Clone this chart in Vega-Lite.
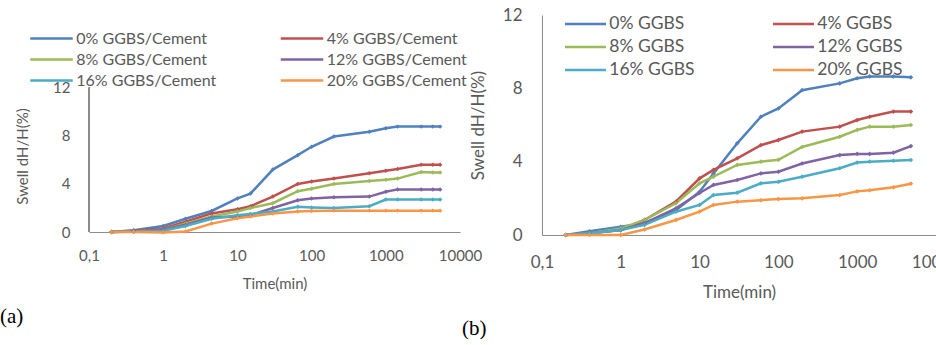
{
  "$schema": "https://vega.github.io/schema/vega-lite/v6.json",
  "background": "white",
  "padding": {"left": 0, "top": 6, "right": 0, "bottom": 0},
  "bounds": "flush",
  "spacing": 82,
  "config": {"font": "Lato", "view": {"stroke": null}},
  "resolve": {"scale": {"color": "independent"}, "legend": {"color": "independent"}},
  "hconcat": [
    {
      "width": 371,
      "height": 217,
      "title": {"text": "(a)", "orient": "bottom", "anchor": "start", "frame": "group", "dx": -89, "offset": 15, "font": "Liberation Serif", "fontSize": 21, "fontWeight": "normal", "color": "black"},
      "data": {"values": [
        {"t":0.2,"s":"0% GGBS/Cement","v":0},{"t":0.4,"s":"0% GGBS/Cement","v":0.15},{"t":1,"s":"0% GGBS/Cement","v":0.5},{"t":2,"s":"0% GGBS/Cement","v":1.1},{"t":4.5,"s":"0% GGBS/Cement","v":1.75},{"t":10,"s":"0% GGBS/Cement","v":2.8},{"t":15,"s":"0% GGBS/Cement","v":3.2},{"t":30,"s":"0% GGBS/Cement","v":5.2},{"t":65,"s":"0% GGBS/Cement","v":6.4},{"t":100,"s":"0% GGBS/Cement","v":7.1},{"t":200,"s":"0% GGBS/Cement","v":7.95},{"t":600,"s":"0% GGBS/Cement","v":8.35},{"t":1000,"s":"0% GGBS/Cement","v":8.65},{"t":1440,"s":"0% GGBS/Cement","v":8.78},{"t":3000,"s":"0% GGBS/Cement","v":8.78},{"t":4300,"s":"0% GGBS/Cement","v":8.78},{"t":5400,"s":"0% GGBS/Cement","v":8.78},
        {"t":0.2,"s":"4% GGBS/Cement","v":0},{"t":0.4,"s":"4% GGBS/Cement","v":0.1},{"t":1,"s":"4% GGBS/Cement","v":0.3},{"t":2,"s":"4% GGBS/Cement","v":0.85},{"t":4.5,"s":"4% GGBS/Cement","v":1.55},{"t":10,"s":"4% GGBS/Cement","v":1.9},{"t":15,"s":"4% GGBS/Cement","v":2.15},{"t":30,"s":"4% GGBS/Cement","v":2.95},{"t":65,"s":"4% GGBS/Cement","v":4.0},{"t":100,"s":"4% GGBS/Cement","v":4.2},{"t":200,"s":"4% GGBS/Cement","v":4.45},{"t":600,"s":"4% GGBS/Cement","v":4.9},{"t":1000,"s":"4% GGBS/Cement","v":5.1},{"t":1440,"s":"4% GGBS/Cement","v":5.25},{"t":3000,"s":"4% GGBS/Cement","v":5.6},{"t":4300,"s":"4% GGBS/Cement","v":5.6},{"t":5400,"s":"4% GGBS/Cement","v":5.6},
        {"t":0.2,"s":"8% GGBS/Cement","v":0},{"t":0.4,"s":"8% GGBS/Cement","v":0.05},{"t":1,"s":"8% GGBS/Cement","v":0.2},{"t":2,"s":"8% GGBS/Cement","v":0.7},{"t":4.5,"s":"8% GGBS/Cement","v":1.3},{"t":10,"s":"8% GGBS/Cement","v":1.7},{"t":15,"s":"8% GGBS/Cement","v":2.0},{"t":30,"s":"8% GGBS/Cement","v":2.4},{"t":65,"s":"8% GGBS/Cement","v":3.4},{"t":100,"s":"8% GGBS/Cement","v":3.6},{"t":200,"s":"8% GGBS/Cement","v":4.0},{"t":600,"s":"8% GGBS/Cement","v":4.25},{"t":1000,"s":"8% GGBS/Cement","v":4.35},{"t":1440,"s":"8% GGBS/Cement","v":4.45},{"t":3000,"s":"8% GGBS/Cement","v":5.0},{"t":4300,"s":"8% GGBS/Cement","v":4.95},{"t":5400,"s":"8% GGBS/Cement","v":4.95},
        {"t":0.2,"s":"12% GGBS/Cement","v":0},{"t":0.4,"s":"12% GGBS/Cement","v":0.05},{"t":1,"s":"12% GGBS/Cement","v":0.2},{"t":2,"s":"12% GGBS/Cement","v":0.6},{"t":4.5,"s":"12% GGBS/Cement","v":1.2},{"t":10,"s":"12% GGBS/Cement","v":1.3},{"t":15,"s":"12% GGBS/Cement","v":1.4},{"t":30,"s":"12% GGBS/Cement","v":2.0},{"t":65,"s":"12% GGBS/Cement","v":2.65},{"t":100,"s":"12% GGBS/Cement","v":2.8},{"t":200,"s":"12% GGBS/Cement","v":2.9},{"t":600,"s":"12% GGBS/Cement","v":2.95},{"t":1000,"s":"12% GGBS/Cement","v":3.35},{"t":1440,"s":"12% GGBS/Cement","v":3.55},{"t":3000,"s":"12% GGBS/Cement","v":3.55},{"t":4300,"s":"12% GGBS/Cement","v":3.55},{"t":5400,"s":"12% GGBS/Cement","v":3.55},
        {"t":0.2,"s":"16% GGBS/Cement","v":0},{"t":0.4,"s":"16% GGBS/Cement","v":0.05},{"t":1,"s":"16% GGBS/Cement","v":0.1},{"t":2,"s":"16% GGBS/Cement","v":0.5},{"t":4.5,"s":"16% GGBS/Cement","v":1.1},{"t":10,"s":"16% GGBS/Cement","v":1.4},{"t":15,"s":"16% GGBS/Cement","v":1.5},{"t":30,"s":"16% GGBS/Cement","v":1.7},{"t":65,"s":"16% GGBS/Cement","v":2.1},{"t":100,"s":"16% GGBS/Cement","v":2.05},{"t":200,"s":"16% GGBS/Cement","v":2.0},{"t":600,"s":"16% GGBS/Cement","v":2.15},{"t":1000,"s":"16% GGBS/Cement","v":2.7},{"t":1440,"s":"16% GGBS/Cement","v":2.7},{"t":3000,"s":"16% GGBS/Cement","v":2.7},{"t":4300,"s":"16% GGBS/Cement","v":2.7},{"t":5400,"s":"16% GGBS/Cement","v":2.7},
        {"t":0.2,"s":"20% GGBS/Cement","v":0},{"t":0.4,"s":"20% GGBS/Cement","v":0},{"t":1,"s":"20% GGBS/Cement","v":-0.05},{"t":2,"s":"20% GGBS/Cement","v":0.05},{"t":4.5,"s":"20% GGBS/Cement","v":0.7},{"t":10,"s":"20% GGBS/Cement","v":1.15},{"t":15,"s":"20% GGBS/Cement","v":1.3},{"t":30,"s":"20% GGBS/Cement","v":1.55},{"t":65,"s":"20% GGBS/Cement","v":1.7},{"t":100,"s":"20% GGBS/Cement","v":1.75},{"t":200,"s":"20% GGBS/Cement","v":1.78},{"t":600,"s":"20% GGBS/Cement","v":1.78},{"t":1000,"s":"20% GGBS/Cement","v":1.78},{"t":1440,"s":"20% GGBS/Cement","v":1.78},{"t":3000,"s":"20% GGBS/Cement","v":1.78},{"t":4300,"s":"20% GGBS/Cement","v":1.78},{"t":5400,"s":"20% GGBS/Cement","v":1.78}
      ]},
      "encoding": {
        "x": {"field": "t", "type": "quantitative", "scale": {"type": "log", "domain": [0.1, 10000], "nice": false},
          "axis": {"values": [0.1, 1, 10, 100, 1000, 10000], "labelExpr": "datum.value < 0.5 ? '0,1' : format(datum.value, 'd')", "title": "Time(min)", "grid": false, "ticks": false, "tickSize": 0, "domainColor": "#8c8c8c", "labelPadding": 16, "labelFontSize": 15, "labelColor": "#595959", "labelFlush": false, "labelOverlap": false, "titleFontSize": 15, "titleColor": "#595959", "titleFontWeight": "normal", "titlePadding": 13}},
        "y": {"field": "v", "type": "quantitative", "scale": {"domain": [0, 18.08], "nice": false},
          "axis": {"values": [0, 4, 8, 12], "title": "Swell dH/H(%)", "grid": false, "ticks": false, "tickSize": 0, "domain": false, "labelPadding": 19, "labelFontSize": 15, "labelColor": "#595959", "titleFontSize": 15, "titleColor": "#595959", "titleFontWeight": "normal", "titlePadding": 22, "titleY": 141}},
        "color": {"field": "s", "type": "nominal",
          "scale": {"domain": ["0% GGBS/Cement","4% GGBS/Cement","8% GGBS/Cement","12% GGBS/Cement","16% GGBS/Cement","20% GGBS/Cement"], "range": ["#4F81BD","#C0504D","#9BBB59","#8064A2","#4BACC6","#F79646"]},
          "legend": {"orient": "none", "direction": "horizontal", "legendX": -47.5, "legendY": 13.5, "columns": 2, "columnPadding": 58.5, "rowPadding": 3, "title": null, "padding": 0, "symbolType": "M-2.5,0H2.5", "symbolSize": 289, "symbolStrokeWidth": 2.5, "labelOffset": 14.75, "labelFontSize": 16, "labelColor": "#595959", "labelLimit": 300}}
      },
      "layer": [
        {"mark": {"type": "line", "strokeWidth": 2.5}},
        {"mark": {"type": "point", "filled": true, "size": 20, "opacity": 1, "shape": "diamond"}},
        {"mark": {"type": "rule", "color": "#8c8c8c", "strokeWidth": 1},
         "encoding": {"x": {"datum": 0.1, "type": "quantitative"}, "y": {"datum": 0, "type": "quantitative"}, "y2": {"datum": 12}, "color": {"value": "#8c8c8c"}}}
      ]
    },
    {
      "width": 394,
      "height": 220,
      "title": {"text": "(b)", "orient": "bottom", "anchor": "start", "frame": "group", "dx": -80, "offset": 18, "font": "Liberation Serif", "fontSize": 21, "fontWeight": "normal", "color": "black"},
      "data": {"values": [
        {"t":0.2,"s":"0% GGBS","v":0},{"t":0.4,"s":"0% GGBS","v":0.2},{"t":1,"s":"0% GGBS","v":0.45},{"t":2,"s":"0% GGBS","v":0.64},{"t":5,"s":"0% GGBS","v":1.36},{"t":10,"s":"0% GGBS","v":2.36},{"t":15,"s":"0% GGBS","v":3.36},{"t":30,"s":"0% GGBS","v":5.0},{"t":60,"s":"0% GGBS","v":6.45},{"t":100,"s":"0% GGBS","v":6.9},{"t":200,"s":"0% GGBS","v":7.9},{"t":600,"s":"0% GGBS","v":8.27},{"t":1000,"s":"0% GGBS","v":8.55},{"t":1440,"s":"0% GGBS","v":8.65},{"t":2880,"s":"0% GGBS","v":8.65},{"t":4800,"s":"0% GGBS","v":8.6},
        {"t":0.2,"s":"4% GGBS","v":0},{"t":0.4,"s":"4% GGBS","v":0.1},{"t":1,"s":"4% GGBS","v":0.27},{"t":2,"s":"4% GGBS","v":0.82},{"t":5,"s":"4% GGBS","v":1.82},{"t":10,"s":"4% GGBS","v":3.09},{"t":15,"s":"4% GGBS","v":3.55},{"t":30,"s":"4% GGBS","v":4.18},{"t":60,"s":"4% GGBS","v":4.9},{"t":100,"s":"4% GGBS","v":5.18},{"t":200,"s":"4% GGBS","v":5.64},{"t":600,"s":"4% GGBS","v":5.91},{"t":1000,"s":"4% GGBS","v":6.27},{"t":1440,"s":"4% GGBS","v":6.45},{"t":2880,"s":"4% GGBS","v":6.73},{"t":4800,"s":"4% GGBS","v":6.73},
        {"t":0.2,"s":"8% GGBS","v":0},{"t":0.4,"s":"8% GGBS","v":0.1},{"t":1,"s":"8% GGBS","v":0.36},{"t":2,"s":"8% GGBS","v":0.82},{"t":5,"s":"8% GGBS","v":1.73},{"t":10,"s":"8% GGBS","v":2.82},{"t":15,"s":"8% GGBS","v":3.18},{"t":30,"s":"8% GGBS","v":3.82},{"t":60,"s":"8% GGBS","v":4.0},{"t":100,"s":"8% GGBS","v":4.1},{"t":200,"s":"8% GGBS","v":4.8},{"t":600,"s":"8% GGBS","v":5.36},{"t":1000,"s":"8% GGBS","v":5.73},{"t":1440,"s":"8% GGBS","v":5.91},{"t":2880,"s":"8% GGBS","v":5.91},{"t":4800,"s":"8% GGBS","v":6.0},
        {"t":0.2,"s":"12% GGBS","v":0},{"t":0.4,"s":"12% GGBS","v":0.1},{"t":1,"s":"12% GGBS","v":0.27},{"t":2,"s":"12% GGBS","v":0.65},{"t":5,"s":"12% GGBS","v":1.45},{"t":10,"s":"12% GGBS","v":2.29},{"t":15,"s":"12% GGBS","v":2.73},{"t":30,"s":"12% GGBS","v":3.0},{"t":60,"s":"12% GGBS","v":3.36},{"t":100,"s":"12% GGBS","v":3.45},{"t":200,"s":"12% GGBS","v":3.9},{"t":600,"s":"12% GGBS","v":4.36},{"t":1000,"s":"12% GGBS","v":4.42},{"t":1440,"s":"12% GGBS","v":4.42},{"t":2880,"s":"12% GGBS","v":4.49},{"t":4800,"s":"12% GGBS","v":4.85},
        {"t":0.2,"s":"16% GGBS","v":0},{"t":0.4,"s":"16% GGBS","v":0.1},{"t":1,"s":"16% GGBS","v":0.27},{"t":2,"s":"16% GGBS","v":0.55},{"t":5,"s":"16% GGBS","v":1.27},{"t":10,"s":"16% GGBS","v":1.64},{"t":15,"s":"16% GGBS","v":2.18},{"t":30,"s":"16% GGBS","v":2.31},{"t":60,"s":"16% GGBS","v":2.82},{"t":100,"s":"16% GGBS","v":2.9},{"t":200,"s":"16% GGBS","v":3.18},{"t":600,"s":"16% GGBS","v":3.64},{"t":1000,"s":"16% GGBS","v":3.95},{"t":1440,"s":"16% GGBS","v":4.0},{"t":2880,"s":"16% GGBS","v":4.05},{"t":4800,"s":"16% GGBS","v":4.09},
        {"t":0.2,"s":"20% GGBS","v":0},{"t":0.4,"s":"20% GGBS","v":0},{"t":1,"s":"20% GGBS","v":0},{"t":2,"s":"20% GGBS","v":0.3},{"t":5,"s":"20% GGBS","v":0.82},{"t":10,"s":"20% GGBS","v":1.27},{"t":15,"s":"20% GGBS","v":1.64},{"t":30,"s":"20% GGBS","v":1.82},{"t":60,"s":"20% GGBS","v":1.9},{"t":100,"s":"20% GGBS","v":1.96},{"t":200,"s":"20% GGBS","v":2.0},{"t":600,"s":"20% GGBS","v":2.18},{"t":1000,"s":"20% GGBS","v":2.38},{"t":1440,"s":"20% GGBS","v":2.44},{"t":2880,"s":"20% GGBS","v":2.6},{"t":4800,"s":"20% GGBS","v":2.8}
      ]},
      "encoding": {
        "x": {"field": "t", "type": "quantitative", "scale": {"type": "log", "domain": [0.1, 10000], "nice": false},
          "axis": {"values": [0.1, 1, 10, 100, 1000, 10000], "labelExpr": "datum.value < 0.5 ? '0,1' : format(datum.value, 'd')", "title": "Time(min)", "grid": false, "ticks": false, "tickSize": 0, "domainColor": "#8c8c8c", "labelPadding": 19, "labelFontSize": 17, "labelColor": "#595959", "labelFlush": false, "labelOverlap": false, "titleFontSize": 17, "titleColor": "#595959", "titleFontWeight": "normal", "titlePadding": 14}},
        "y": {"field": "v", "type": "quantitative", "scale": {"domain": [0, 12], "nice": false},
          "axis": {"values": [0, 4, 8, 12], "title": "Swell dH/H(%)", "grid": false, "ticks": false, "tickSize": 0, "domainColor": "#8c8c8c", "labelPadding": 20, "labelFontSize": 17, "labelColor": "#595959", "titleFontSize": 17, "titleColor": "#595959", "titleFontWeight": "normal", "titlePadding": 15}},
        "color": {"field": "s", "type": "nominal",
          "scale": {"domain": ["0% GGBS","4% GGBS","8% GGBS","12% GGBS","16% GGBS","20% GGBS"], "range": ["#4F81BD","#C0504D","#9BBB59","#8064A2","#4BACC6","#F79646"]},
          "legend": {"orient": "none", "direction": "horizontal", "legendX": 34, "legendY": -0.5, "columns": 2, "columnPadding": 72, "rowPadding": 5, "title": null, "padding": 0, "symbolType": "M-2.5,0H2.5", "symbolSize": 269, "symbolStrokeWidth": 2.5, "labelOffset": 14.3, "labelFontSize": 17.5, "labelColor": "#595959", "labelLimit": 300}}
      },
      "layer": [
        {"mark": {"type": "line", "strokeWidth": 2.5}},
        {"mark": {"type": "point", "filled": true, "size": 22, "opacity": 1, "shape": "diamond"}}
      ]
    }
  ]
}
